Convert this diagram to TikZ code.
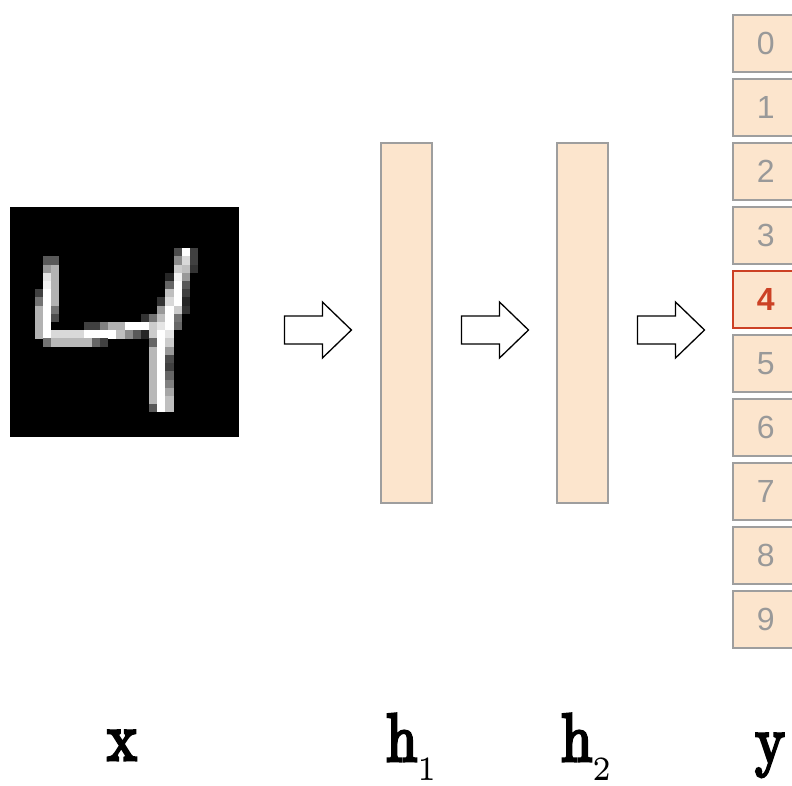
\documentclass[tikz,border=0pt]{standalone}
\usepackage{fontspec}
\newfontfamily\arialf{Liberation Sans}
\newfontfamily\lblf{lmroman10-regular.otf}[FakeBold=4.5]
\usetikzlibrary{calc}
\definecolor{peach}{HTML}{FCE5CD}
\definecolor{bordergray}{HTML}{9E9E9E}
\definecolor{digitgray}{HTML}{999999}
\definecolor{redberry}{HTML}{CC4125}
\newcommand\pxcell[3]{\fill[white!#3!black] ({10+#1*8.179},{207+#2*8.214}) rectangle ++(8.3,8.3);}
\newcommand\biglbl[1]{\scalebox{5.6}[6.8]{\fontsize{10}{12}\selectfont #1}}
\begin{document}
\begin{tikzpicture}[x=1pt,y=-1pt,
  layer/.style={draw=bordergray, line width=1.5pt, fill=peach, minimum width=51pt, minimum height=360pt, inner sep=0pt, anchor=north west},
  outbox/.style={draw=bordergray, line width=1.5pt, fill=peach, minimum width=66pt, minimum height=57pt, inner sep=0pt, anchor=north west, font=\arialf\fontsize{32}{32}\selectfont, text=digitgray},
  blockarrow/.style={draw=black, line width=1.3pt, fill=white, line join=miter},
  lbl/.style={inner sep=0pt},
  barrow/.pic={\draw[blockarrow] (0,-14) -- (38,-14) -- (38,-28) -- (67,0) -- (38,28) -- (38,14) -- (0,14) -- cycle;}]
\useasboundingbox (0,0) rectangle (792,785);
% input image
\node[fill=black, minimum width=229pt, minimum height=230pt, inner sep=0pt, anchor=north west] (x) at (10,207) {};
\foreach \c/\r/\v in {
 20/5/30, 21/5/100, 22/5/25,
 4/6/35, 5/6/35, 20/6/55, 21/6/85, 22/6/25,
 4/7/60, 5/7/70, 20/7/80, 21/7/75, 22/7/20,
 4/8/90, 5/8/70, 19/8/15, 20/8/95, 21/8/60,
 4/9/95, 5/9/70, 19/9/40, 20/9/100, 21/9/35,
 3/10/25, 4/10/100, 5/10/70, 19/10/75, 20/10/100, 21/10/25,
 3/11/45, 4/11/100, 5/11/70, 18/11/20, 19/11/85, 20/11/100, 21/11/15,
 3/12/70, 4/12/100, 5/12/45, 18/12/60, 19/12/100, 20/12/80, 21/12/20,
 3/13/70, 4/13/100, 5/13/30, 16/13/20, 17/13/45, 18/13/75, 19/13/100, 20/13/45,
 3/14/70, 4/14/100, 9/14/25, 10/14/25, 11/14/50, 12/14/70, 13/14/70, 14/14/100, 15/14/100, 16/14/100, 17/14/80, 18/14/90, 19/14/100, 20/14/40,
 3/15/70, 4/15/100, 5/15/85, 6/15/85, 7/15/85, 8/15/85, 9/15/100, 10/15/100, 11/15/100, 12/15/100, 13/15/75, 14/15/55, 15/15/35, 16/15/15, 17/15/80, 18/15/100, 19/15/90,
 4/16/45, 5/16/72, 6/16/72, 7/16/72, 8/16/72, 9/16/72, 10/16/40, 11/16/25, 17/16/40, 18/16/100, 19/16/80,
 17/24/35, 18/24/100, 19/24/75}
 {\pxcell{\c}{\r}{\v}}
\foreach \r/\v in {17/60, 18/30, 19/25, 20/40, 21/50, 22/65, 23/75}
 {\pxcell{17}{\r}{72}\pxcell{18}{\r}{100}\pxcell{19}{\r}{\v}}
% hidden layers
\node[layer] (h1) at (380,142) {};
\node[layer] (h2) at (556,142) {};
% output units
\foreach \i in {0,1,2,3,5,6,7,8,9}
  \node[outbox] (y\i) at (732,{14+64*\i}) {\i};
\node[outbox, draw=redberry, text=redberry, font=\arialf\bfseries\fontsize{32}{32}\selectfont] (y4) at (732,270) {4};
% arrows
\coordinate (a1) at (x.east |- 0,330);
\coordinate (a2) at (h1.east |- 0,330);
\coordinate (a3) at (h2.east |- 0,330);
\pic at ($(a1)+(45,0)$) {barrow};
\pic at ($(a2)+(29,0)$) {barrow};
\pic at ($(a3)+(29,0)$) {barrow};
% labels
\node[lbl, anchor=base] (lx) at (122,760) {\biglbl{\lblf x}};
\node[lbl, anchor=base west] (lh1) at (386,761) {\biglbl{{\lblf h}\raisebox{-2.9pt}{\fontsize{5}{6}\selectfont 1}}};
\node[lbl, anchor=base west] (lh2) at (561,761) {\biglbl{{\lblf h}\raisebox{-2.9pt}{\fontsize{5}{6}\selectfont 2}}};
\node[lbl, anchor=base] (ly) at (770,763) {\biglbl{\lblf y}};
\end{tikzpicture}
\end{document}
